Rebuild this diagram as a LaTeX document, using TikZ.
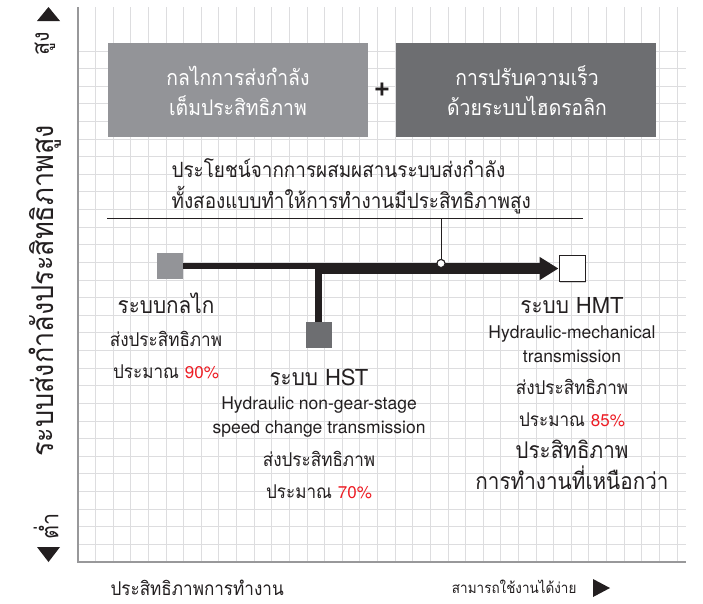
\documentclass[tikz,border=0pt]{standalone}
\usepackage{fontspec}
\setmainfont{TeX Gyre Heros}
\newfontfamily\thai[Script=Thai, FakeStretch=0.9]{Loma}
\usetikzlibrary{arrows.meta}
\usetikzlibrary{shadows}

\definecolor{gridgray}{RGB}{221,221,223}
\definecolor{axisgray}{RGB}{152,152,154}
\definecolor{lightbox}{RGB}{147,148,152}
\definecolor{darkbox}{RGB}{109,110,113}
\definecolor{ink}{RGB}{35,31,32}
\definecolor{pct}{RGB}{237,28,36}

\newcommand{\pctval}[1]{\textcolor{pct}{\normalfont\fontsize{17}{17}\selectfont #1}}

\tikzset{
  gainbox/.style={minimum width=260pt, minimum height=94pt, inner sep=0pt, text=white},
  sysmark/.style={minimum size=26pt, inner sep=0pt},
  boxtext/.style={anchor=base, text=white, font=\thai\fontsize{21.5}{21.5}\selectfont},
  bigth/.style={anchor=base, text=ink, font=\thai\fontsize{23}{23}\selectfont},
  smallth/.style={anchor=base, text=ink, font=\thai\fontsize{19}{19}\selectfont},
  en/.style={anchor=base, text=ink, font=\fontsize{17.5}{17.5}\selectfont},
  tri/.style={fill=ink, draw=none}
}

\begin{document}
\begin{tikzpicture}[x=1pt,y=-1pt]
        \useasboundingbox (0,0) rectangle (703,603);
        % grid
        \foreach \i in {1,...,34}
          \draw[gridgray, line width=1pt] (78+17.62*\i,7) -- (78+17.62*\i,562);
        \foreach \j in {0,...,28}
          \draw[gridgray, line width=1pt] (78,51+17.62*\j) -- (686,51+17.62*\j);
        \draw[axisgray, line width=2pt] (78,7) -- (78,562) -- (686,562);

        % vertical axis labels
        \fill[tri] (37,21) -- (60,21) -- (48.5,7) -- cycle;
        \fill[tri] (37,547) -- (60,547) -- (48.5,562) -- cycle;
        \node[rotate=90, text=ink, font=\thai\fontsize{24}{24}\selectfont] (high) at (45,44) {สูง};
        \node[rotate=90, text=ink, font=\thai\fontsize{30}{30}\selectfont] (ylabel) at (45,291) {ระบบส่งกำลังประสิทธิภาพสูง};
        \node[rotate=90, text=ink, font=\thai\fontsize{24}{24}\selectfont] (low) at (46,526) {ต่ำ};

        % top boxes
        \node[gainbox, fill=lightbox] (mechbox) at (238,90) {};
        \node[boxtext] (mechA) at (238,85) {กลไกการส่งกำลัง};
        \node[boxtext] (mechB) at (238,115) {เต็มประสิทธิภาพ};
        \node[font=\bfseries\fontsize{28}{28}\selectfont, text=ink] (plus) at (382,90) {+};
        \node[gainbox, fill=darkbox] (hydbox) at (526,90) {};
        \node[boxtext] (hydA) at (527,85) {การปรับความเร็ว};
        \node[boxtext] (hydB) at (527,115) {ด้วยระบบไฮดรอลิก};

        % benefit text
        \node[bigth, anchor=base west, font=\thai\fontsize{21}{21}\selectfont] (benA) at (168,177) {ประโยชน์จากการผสมผสานระบบส่งกำลัง};
        \node[bigth, anchor=base west, font=\thai\fontsize{21}{21}\selectfont] (benB) at (168,208) {ทั้งสองแบบทำให้การทำงานมีประสิทธิภาพสูง};
        \draw[ink, line width=1pt] (107,218) -- (583,218);
        \coordinate (tap) at (441,218);
        \node[circle, draw=ink, fill=white, line width=1pt, minimum size=8pt, inner sep=0pt] (joint) at (441,263.5) {};
        \draw[ink, line width=1pt] (tap) -- (joint);

        % systems
        \node[sysmark, fill=lightbox] (mech) at (170,266) {};
        \node[sysmark, fill=darkbox] (hst) at (318.5,335) {};
        \node[sysmark, draw=ink, fill=white, line width=1pt, drop shadow={shadow xshift=1pt, shadow yshift=-1pt, opacity=0.35}] (hmt) at (572,268.5) {};
        \coordinate (branch) at (318.5,266);
        \coordinate (merge) at (315,268.5);
        \draw[ink, line width=6pt] (mech.east) -- (branch);
        \draw[ink, line width=7pt] (hst.north) -- (branch);
        \draw[ink, line width=10.5pt, -{Triangle[length=19pt, width=22pt]}] (merge) -- (hmt.west);
        \node[circle, draw=ink, fill=white, line width=1pt, minimum size=8pt, inner sep=0pt] at (joint) {};

        % mechanical
        \node[bigth] (mechT) at (166,313) {ระบบกลไก};
        \node[smallth] (mechE) at (166,346) {ส่งประสิทธิภาพ};
        \node[smallth] (mechP) at (166,378) {ประมาณ \pctval{90\%}};

        % HST
        \node[bigth] (hstT) at (319,385) {ระบบ \normalfont\fontsize{22}{22}\selectfont HST};
        \node[en] (hstA) at (319,409) {Hydraulic non-gear-stage};
        \node[en] (hstB) at (319,433) {speed change transmission};
        \node[smallth] (hstE) at (319,466) {ส่งประสิทธิภาพ};
        \node[smallth] (hstP) at (319,498) {ประมาณ \pctval{70\%}};

        % HMT
        \node[bigth] (hmtT) at (572,313) {ระบบ \normalfont\fontsize{22}{22}\selectfont HMT};
        \node[en] (hmtA) at (572,338) {Hydraulic-mechanical};
        \node[en] (hmtB) at (572,362) {transmission};
        \node[smallth] (hmtE) at (572,394) {ส่งประสิทธิภาพ};
        \node[smallth] (hmtP) at (572,426) {ประมาณ \pctval{85\%}};
        \node[bigth] (hmtF) at (572,458) {ประสิทธิภาพ};
        \node[bigth] (hmtG) at (572,489) {การทำงานที่เหนือกว่า};

        % horizontal axis labels
        \node[bigth, anchor=base west, font=\thai\fontsize{19}{19}\selectfont] (xlabel) at (107,595) {ประสิทธิภาพการทำงาน};
        \node[smallth, anchor=base east, font=\thai\fontsize{15}{15}\selectfont] (easy) at (580,593) {สามารถใช้งานได้ง่าย};
        \fill[tri] (593,579) -- (593,597) -- (610,588) -- cycle;
\end{tikzpicture}
\end{document}
